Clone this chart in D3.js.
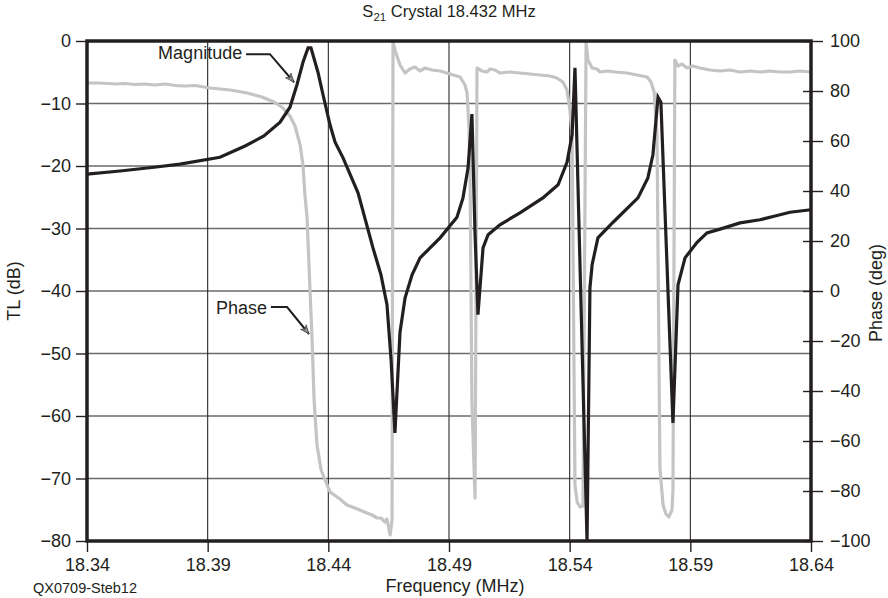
<!DOCTYPE html>
<html>
<head>
<meta charset="utf-8">
<script src="https://cdn.jsdelivr.net/npm/d3@7"></script>
<style>
  body { margin: 0; background: #fff; }
  svg { display: block; font-family: 'Liberation Sans', Arial, Helvetica, sans-serif; }
  text { fill: #231f20; }
</style>
</head>
<body>
<div id="chart"></div>
<script>

// Magnitude trace (MHz, dB).
const magFreq = [
  18.3400, 18.3537, 18.3678, 18.3785, 18.3951, 18.4055, 18.4133, 18.4200, 18.4241, 18.4270,
  18.4295, 18.4316, 18.4328, 18.4357, 18.4378, 18.4407, 18.4428, 18.4461, 18.4523, 18.4585,
  18.4618, 18.4643, 18.4660, 18.4676, 18.4697, 18.4718, 18.4747, 18.4780, 18.4863, 18.4933,
  18.4958, 18.4979, 18.4995, 18.5008, 18.5020, 18.5041, 18.5062, 18.5111, 18.5194, 18.5289,
  18.5352, 18.5389, 18.5410, 18.5422, 18.5472, 18.5484, 18.5493, 18.5517, 18.5580, 18.5683,
  18.5724, 18.5745, 18.5766, 18.5778, 18.5828, 18.5849, 18.5878, 18.5928, 18.5969, 18.6023,
  18.6106, 18.6189, 18.6251, 18.6313, 18.6400
]
const magDb = [
  -21.3, -20.8, -20.2, -19.7, -18.6, -16.8, -15.2, -13.0, -10.6, -7.0,
  -3.4, -1.1, -1.1, -5.0, -8.6, -13.4, -16.2, -18.7, -24.3, -33.1,
  -37.4, -42.2, -51.0, -62.7, -46.6, -41.1, -37.4, -34.7, -31.5, -28.2,
  -25.1, -20.3, -11.7, -31.0, -43.8, -33.1, -31.0, -29.4, -27.5, -25.1,
  -23.0, -19.4, -15.0, -4.3, -80.0, -39.5, -35.8, -31.5, -29.0, -25.1,
  -21.9, -18.2, -9.0, -9.8, -61.1, -39.0, -34.7, -32.2, -30.7, -30.1,
  -29.1, -28.6, -28.0, -27.4, -27.0
]

// Phase trace (MHz, degrees).
const phaseFreq = [
  18.3400, 18.3454, 18.3516, 18.3557, 18.3599, 18.3640, 18.3682, 18.3723, 18.3765, 18.3806,
  18.3848, 18.3910, 18.3993, 18.4063, 18.4125, 18.4175, 18.4212, 18.4241, 18.4262, 18.4283,
  18.4295, 18.4303, 18.4312, 18.4324, 18.4332, 18.4341, 18.4353, 18.4370, 18.4407, 18.4448,
  18.4477, 18.4510, 18.4540, 18.4560, 18.4581, 18.4602, 18.4618, 18.4635, 18.4643, 18.4656,
  18.4664, 18.4668, 18.4676, 18.4697, 18.4718, 18.4738, 18.4759, 18.4780, 18.4801, 18.4830,
  18.4863, 18.4904, 18.4946, 18.4966, 18.4975, 18.4983, 18.4987, 18.4995, 18.5004, 18.5008,
  18.5016, 18.5037, 18.5057, 18.5070, 18.5091, 18.5111, 18.5153, 18.5194, 18.5236, 18.5277,
  18.5318, 18.5347, 18.5372, 18.5389, 18.5401, 18.5410, 18.5422, 18.5431, 18.5443, 18.5455,
  18.5468, 18.5476, 18.5493, 18.5513, 18.5526, 18.5555, 18.5588, 18.5638, 18.5679, 18.5721,
  18.5737, 18.5750, 18.5762, 18.5774, 18.5787, 18.5799, 18.5811, 18.5824, 18.5828, 18.5836,
  18.5849, 18.5865, 18.5886, 18.5911, 18.5940, 18.5981, 18.6023, 18.6064, 18.6106, 18.6147,
  18.6189, 18.6230, 18.6272, 18.6313, 18.6354, 18.6400
]
const phaseDeg = [
  83.2, 83.2, 82.8, 83.0, 82.6, 82.8, 82.4, 82.8, 82.2, 82.0,
  82.2, 81.2, 80.4, 79.2, 77.6, 75.6, 73.2, 70.0, 66.0, 58.4,
  50.4, 38.4, 29.2, 0.4, -17.6, -43.6, -61.6, -71.6, -80.4, -83.2,
  -85.6, -86.8, -88.0, -88.8, -89.6, -90.8, -90.8, -92.4, -91.2, -97.6,
  -91.6, 99.6, 96.4, 90.4, 87.2, 88.8, 89.6, 88.0, 89.2, 88.4,
  88.0, 86.8, 85.6, 82.4, 79.2, 64.4, 49.2, -44.4, -71.6, -82.8,
  89.2, 88.0, 87.6, 88.8, 88.4, 87.2, 87.6, 87.2, 86.8, 86.4,
  86.0, 85.2, 83.6, 80.4, 72.4, 62.4, -77.6, -84.4, -86.4, -86.0,
  99.6, 92.4, 89.2, 88.8, 87.6, 88.0, 87.6, 87.2, 86.4, 85.6,
  83.6, 79.6, 62.4, -70.8, -85.6, -89.2, -90.4, -87.6, -79.6, 92.4,
  90.0, 90.8, 89.2, 90.0, 89.2, 88.4, 88.0, 88.4, 87.6, 88.0,
  87.6, 88.0, 87.6, 87.6, 88.0, 87.6
]

// Axis ticks.
const freqTicks = [18.34, 18.39, 18.44, 18.49, 18.54, 18.59, 18.64]
const dbTicks = [0, -10, -20, -30, -40, -50, -60, -70, -80]
const degTicks = [100, 80, 60, 40, 20, 0, -20, -40, -60, -80, -100]

// Callouts: [label, text end, elbow start, elbow end, arrow tip] as [MHz, value].
const magCallout = ['Magnitude', [18.4043, -1.9], [18.4059, -2.1], [18.4158, -2.1], [18.4258, -6.6]]
const phaseCallout = ['Phase', [18.4146, -6.8], [18.4162, -6.4], [18.4229, -6.4], [18.4320, -17.2]]

const width = 888, height = 598
const margin = { top: 41, right: 77, bottom: 57, left: 87 }
const innerW = width - margin.left - margin.right
const innerH = height - margin.top - margin.bottom
const ink = '#231f20'

const svg = d3.select('#chart')
  .append('svg')
    .attr('width', width)
    .attr('height', height)

// Arrow head for callouts.
svg.append('defs')
  .append('marker')
    .attr('id', 'arrow')
    .attr('viewBox', '0 0 10 10')
    .attr('refX', 10)
    .attr('refY', 5)
    .attr('markerWidth', 12)
    .attr('markerHeight', 9)
    .attr('markerUnits', 'userSpaceOnUse')
    .attr('orient', 'auto')
  .append('path')
    .attr('d', 'M0,1 L10,5 L0,9 L3,5 Z')
    .attr('fill', '#8a8a8a')
    .attr('stroke', '#444')
    .attr('stroke-width', 0.8)

svg.select('defs')
  .append('clipPath')
    .attr('id', 'plotClip')
  .append('rect')
    .attr('width', innerW)
    .attr('height', innerH + 2)
    .attr('y', -1)

const g = svg.append('g')
  .attr('transform', 'translate(' + margin.left + ',' + margin.top + ')')

const x = d3.scaleLinear().domain([18.34, 18.64]).range([0, innerW])
const yDb = d3.scaleLinear().domain([-80, 0]).range([innerH, 0])
const yDeg = d3.scaleLinear().domain([-100, 100]).range([innerH, 0])

// Grid.
g.append('g')
  .selectAll('line')
  .data(dbTicks.slice(1, -1))
  .join('line')
    .attr('x1', 0)
    .attr('x2', innerW)
    .attr('y1', d => yDb(d))
    .attr('y2', d => yDb(d))
    .attr('stroke', '#6a6a6a')
    .attr('stroke-width', 1.5)

g.append('g')
  .selectAll('line')
  .data(freqTicks.slice(1, -1))
  .join('line')
    .attr('x1', d => x(d))
    .attr('x2', d => x(d))
    .attr('y1', 0)
    .attr('y2', innerH)
    .attr('stroke', '#2a2a2a')
    .attr('stroke-width', 1.1)

// Traces.
const plot = g.append('g').attr('clip-path', 'url(#plotClip)')

const phaseLine = d3.line()
  .x(d => x(d[0]))
  .y(d => yDeg(d[1]))
plot.append('path')
  .datum(d3.zip(phaseFreq, phaseDeg))
  .attr('d', phaseLine)
  .attr('fill', 'none')
  .attr('stroke', '#c4c4c4')
  .attr('stroke-width', 3.2)
  .attr('stroke-linejoin', 'round')

const magLine = d3.line()
  .x(d => x(d[0]))
  .y(d => yDb(d[1]))
plot.append('path')
  .datum(d3.zip(magFreq, magDb))
  .attr('d', magLine)
  .attr('fill', 'none')
  .attr('stroke', ink)
  .attr('stroke-width', 3.2)
  .attr('stroke-linejoin', 'miter')

// Frame.
g.append('rect')
  .attr('width', innerW)
  .attr('height', innerH)
  .attr('fill', 'none')
  .attr('stroke', ink)
  .attr('stroke-width', 3.5)

// Axes.
const axisFont = 18

const xAxis = g.append('g')
  .attr('transform', 'translate(0,' + innerH + ')')
  .call(d3.axisBottom(x).tickValues(freqTicks).tickFormat(d3.format('.2f')).tickSize(11).tickPadding(6))
const yAxisL = g.append('g')
  .call(d3.axisLeft(yDb).tickValues(dbTicks).tickSize(11).tickPadding(5))
const yAxisR = g.append('g')
  .attr('transform', 'translate(' + innerW + ',0)')
  .call(d3.axisRight(yDeg).tickValues(degTicks).tickSize(12).tickPadding(7))

for (const ax of [xAxis, yAxisL, yAxisR]) {
  ax.select('.domain').remove()
  ax.selectAll('.tick line').attr('stroke', ink).attr('stroke-width', 1.4)
  ax.selectAll('.tick text')
    .attr('font-size', axisFont)
    .attr('font-family', "'Liberation Sans', Arial, sans-serif")
    .attr('fill', ink)
}
// Right ticks cross the frame.
yAxisR.selectAll('.tick line').attr('x1', -8)

// Titles.
const title = svg.append('text')
  .attr('x', 449)
  .attr('y', 17)
  .attr('text-anchor', 'middle')
  .attr('font-size', 16.5)
title.append('tspan').text('S')
title.append('tspan').text('21').attr('font-size', 11.5).attr('dy', 4)
title.append('tspan').text(' Crystal 18.432 MHz').attr('dy', -4)

svg.append('text')
  .attr('x', 455)
  .attr('y', 592)
  .attr('text-anchor', 'middle')
  .attr('font-size', 18)
  .text('Frequency (MHz)')

svg.append('text')
  .attr('transform', 'translate(20,' + (margin.top + innerH / 2) + ') rotate(-90)')
  .attr('text-anchor', 'middle')
  .attr('font-size', 18)
  .text('TL (dB)')

svg.append('text')
  .attr('transform', 'translate(882,' + (margin.top + innerH / 2 + 2) + ') rotate(-90)')
  .attr('text-anchor', 'middle')
  .attr('font-size', 18)
  .text('Phase (deg)')

svg.append('text')
  .attr('x', 33)
  .attr('y', 593)
  .attr('font-size', 14.5)
  .text('QX0709-Steb12')

// Callouts.
function callout(c, yScale) {
  g.append('text')
    .attr('x', x(c[1][0]))
    .attr('y', yScale(c[1][1]))
    .attr('dy', '0.35em')
    .attr('text-anchor', 'end')
    .attr('font-size', 18)
    .text(c[0])
  g.append('path')
    .attr('d', d3.line()(c.slice(2).map(p => [x(p[0]), yScale(p[1])])))
    .attr('fill', 'none')
    .attr('stroke', ink)
    .attr('stroke-width', 2)
    .attr('marker-end', 'url(#arrow)')
}
callout(magCallout, yDb)
callout(phaseCallout, yDeg)

</script>
</body>
</html>
